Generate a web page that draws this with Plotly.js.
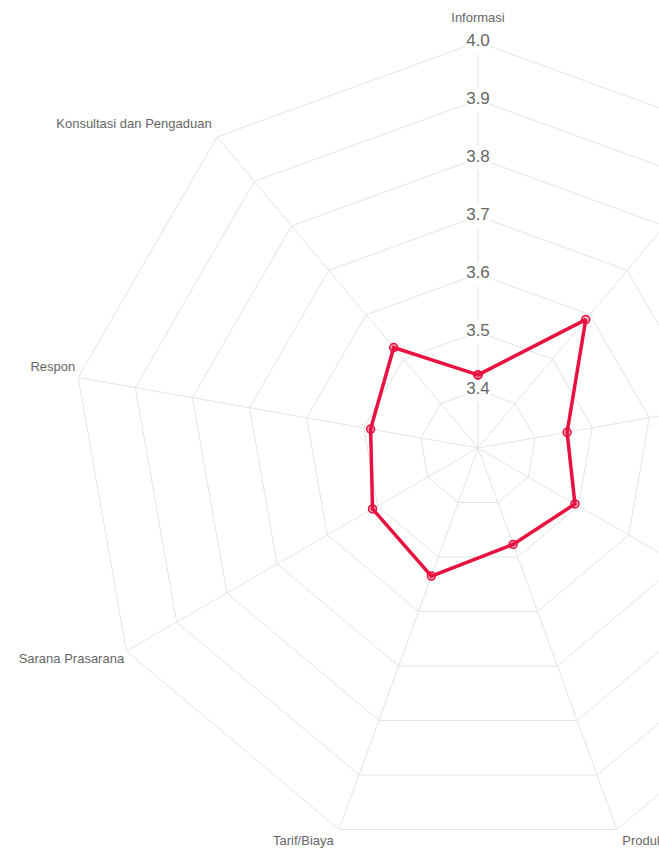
<!DOCTYPE html>
<html>
<head>
<meta charset="utf-8">
<script src="https://cdn.plot.ly/plotly-3.0.1.min.js"></script>
<style>
  html, body { margin: 0; padding: 0; width: 659px; height: 852px; overflow: hidden; background: #fff; }
  #chart { position: absolute; left: 0px; top: -2px; width: 928px; height: 900px; }
</style>
</head>
<body>
<div id="chart"></div>
<script>
// Categories, clockwise from the top
const categories = [
  'Informasi',
  'Persyaratan',
  'Prosedur',
  'Waktu Pelayanan',
  'Produk Layanan',
  'Tarif/Biaya',
  'Sarana Prasarana',
  'Respon',
  'Konsultasi dan Pengaduan'
];
const values = [3.426, 3.589, 3.456, 3.493, 3.477, 3.535, 3.510, 3.488, 3.526];
const tickValues = [3.4, 3.5, 3.6, 3.7, 3.8, 3.9, 4.0];
const tickLabels = ['3.4', '3.5', '3.6', '3.7', '3.8', '3.9', '4.0'];
const rangeMin = 3.3;
const rangeMax = 4.0;

const gridColor = '#e4e4e4';
const lineColor = '#e8113f';
const textColor = '#666666';
const fontFamily = '"Liberation Sans", Arial, sans-serif';

// label placement styles (per category, clockwise from top)
const labelPositions = ['top center', 'top right', 'middle right', 'bottom right', 'bottom right',
                        'bottom left', 'bottom left', 'top left', 'top left'];
const labelPads = [25, 7, 7, 7, 7, 7, 2, 3, 7];

const traces = [
  {
    type: 'scatterpolar',
    mode: 'markers+text',
    theta: categories,
    r: categories.map(() => rangeMax),
    text: categories,
    textposition: labelPositions,
    textfont: { family: fontFamily, size: 13, color: textColor },
    marker: { size: labelPads, opacity: 0 },
    cliponaxis: false,
    hoverinfo: 'skip',
    showlegend: false
  },
  {
    type: 'scatterpolar',
    mode: 'markers+text',
    theta: tickValues.map(() => categories[0]),
    r: tickValues,
    text: tickLabels,
    textposition: 'middle center',
    textfont: { family: fontFamily, size: 17, color: textColor },
    marker: { symbol: 'square', size: 24, color: '#ffffff', line: { width: 0 } },
    cliponaxis: false,
    hoverinfo: 'skip',
    showlegend: false
  },
  {
    type: 'scatterpolar',
    mode: 'lines+markers',
    theta: categories.concat([categories[0]]),
    r: values.concat([values[0]]),
    line: { color: lineColor, width: 3.5 },
    marker: { size: 8, color: 'rgba(232,17,63,0.35)', line: { color: lineColor, width: 1.5 } },
    cliponaxis: false,
    showlegend: false
  }
];

const layout = {
  width: 928,
  height: 900,
  margin: { l: 72, r: 44, t: 44, b: 44, pad: 0 },
  paper_bgcolor: '#ffffff',
  plot_bgcolor: '#ffffff',
  showlegend: false,
  polar: {
    bgcolor: '#ffffff',
    gridshape: 'linear',
    domain: { x: [0, 1], y: [0, 1] },
    radialaxis: {
      range: [rangeMin, rangeMax],
      tickvals: tickValues,
      showticklabels: false,
      ticks: '',
      showline: false,
      showgrid: true,
      gridcolor: gridColor,
      gridwidth: 1,
      layer: 'below traces'
    },
    angularaxis: {
      type: 'category',
      categoryarray: categories,
      direction: 'clockwise',
      rotation: 90,
      showticklabels: false,
      ticks: '',
      showline: true,
      linecolor: gridColor,
      linewidth: 1,
      showgrid: true,
      gridcolor: gridColor,
      gridwidth: 1,
      layer: 'below traces'
    }
  }
};

Plotly.newPlot('chart', traces, layout, { displayModeBar: false, staticPlot: true });
</script>
</body>
</html>
